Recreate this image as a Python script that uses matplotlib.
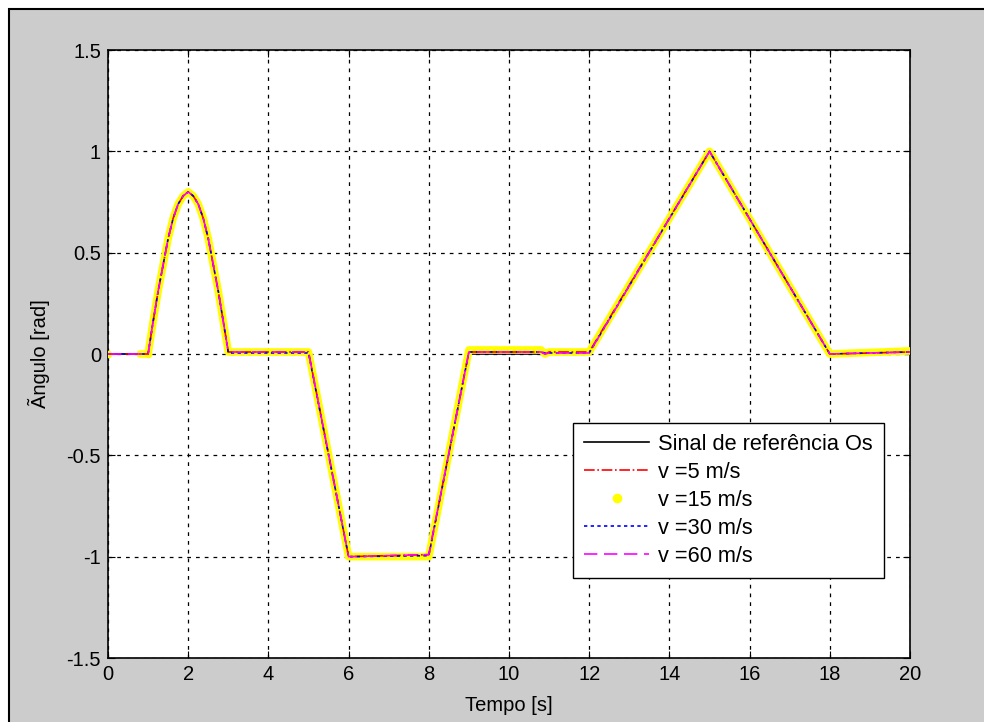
import matplotlib.pyplot as plt
from matplotlib.lines import Line2D
from matplotlib.patches import Rectangle

plt.rcParams['font.family'] = ['Liberation Sans', 'DejaVu Sans']

# reference steering signal (rad) vs time (s)
t = [0, 1.0, 1.125, 1.25, 1.375, 1.5, 1.625, 1.75, 1.875, 2.0,
     2.125, 2.25, 2.375, 2.5, 2.625, 2.75, 2.875, 3.0,
     5.0, 6.0, 8.0, 9.0, 10.8, 10.9, 11.0, 12.0, 15.0, 18.0, 20.0]
ref = [0, 0, 0.16, 0.31, 0.44, 0.57, 0.67, 0.74, 0.78, 0.80,
       0.78, 0.74, 0.67, 0.57, 0.44, 0.31, 0.16, 0.0,
       0.0, -1.0, -1.0, 0.0, 0.0, 0.0, 0.0, 0.0, 1.0, 0.0, 0.0]

# vehicle responses at several speeds
v5 = [0, 0, 0.16, 0.31, 0.44, 0.57, 0.67, 0.74, 0.78, 0.80,
      0.78, 0.74, 0.67, 0.57, 0.44, 0.31, 0.16, 0.01,
      0.01, -1.0, -0.99, 0.01, 0.01, 0.0, 0.01, 0.01, 1.0, 0.0, 0.01]
v15 = [0, 0, 0.16, 0.31, 0.44, 0.57, 0.67, 0.74, 0.78, 0.80,
       0.78, 0.74, 0.67, 0.57, 0.44, 0.31, 0.16, 0.01,
       0.01, -1.0, -1.0, 0.02, 0.02, 0.0, 0.01, 0.01, 1.0, 0.0, 0.015]
v30 = [0, 0, 0.16, 0.31, 0.44, 0.57, 0.67, 0.74, 0.78, 0.80,
       0.78, 0.74, 0.67, 0.57, 0.44, 0.31, 0.16, 0.005,
       0.005, -1.0, -0.995, 0.01, 0.01, 0.005, 0.005, 0.005, 1.0, 0.0, 0.01]
v60 = [0, 0, 0.16, 0.31, 0.44, 0.57, 0.67, 0.74, 0.78, 0.80,
       0.78, 0.74, 0.67, 0.57, 0.44, 0.31, 0.16, 0.01,
       0.01, -1.0, -0.99, 0.01, 0.01, 0.0, 0.005, 0.005, 1.0, 0.0, 0.01]

labels = ['Sinal de referência Os', 'v =5 m/s', 'v =15 m/s', 'v =30 m/s', 'v =60 m/s']
xticks = list(range(0, 21, 2))
yticks = [-1.5, -1, -0.5, 0, 0.5, 1, 1.5]
ytick_labels = ['-1.5', '-1', '-0.5', '0', '0.5', '1', '1.5']
fs = 14.5

fig = plt.figure(figsize=(9.84, 7.22), dpi=100)
fig.patch.set_facecolor('white')
# grey figure panel with black frame (runs off the right/bottom edges)
fig.patches.append(Rectangle((9 / 984, -0.05), 1.1, (722 - 9) / 722 + 0.05,
                             transform=fig.transFigure, facecolor='#cccccc',
                             edgecolor='black', linewidth=1.5, zorder=-1))

ax = fig.add_axes([108 / 984, (722 - 658) / 722, 802 / 984, 608 / 722])
ax.set_facecolor('white')

ax.plot(t, ref, color='black', lw=1.2, zorder=2)
# the 15 m/s run is drawn from t = 0.8 s on
i0 = 1
ax.plot([0.8] + t[i0:], [0] + v15[i0:], color='#ffff00', lw=5.5,
        solid_capstyle='round', solid_joinstyle='round', zorder=3)
ax.plot(t[:i0 + 1], v15[:i0 + 1], color='#ffff00', ls='none', marker='.',
        markersize=9, zorder=3)
ax.plot(t, v5, color='red', lw=1.2, ls='-.', zorder=4)
ax.plot(t, v30, color='blue', lw=1.2, ls=(0, (2, 2)), zorder=5)
ax.plot(t, v60, color='magenta', lw=1.2, ls=(0, (8, 4)), zorder=6)

ax.set_xlim(0, 20)
ax.set_ylim(-1.5, 1.5)
ax.set_xticks(xticks)
ax.set_yticks(yticks)
ax.set_yticklabels(ytick_labels)
ax.tick_params(direction='in', length=5, top=True, right=True,
               labelsize=fs, pad=5)
ax.grid(True, color='black', ls=(0, (3, 4)), lw=0.9)
for s in ax.spines.values():
    s.set_linewidth(1.2)

ax.set_xlabel('Tempo [s]', fontsize=fs, labelpad=9)
ax.set_ylabel('Ãngulo [rad]', fontsize=fs, labelpad=12)

handles = [
    Line2D([], [], color='black', lw=1.2),
    Line2D([], [], color='red', lw=1.2, ls='-.'),
    Line2D([], [], color='#ffff00', ls='none', marker='.', markersize=12),
    Line2D([], [], color='blue', lw=1.2, ls=(0, (2, 2))),
    Line2D([], [], color='magenta', lw=1.2, ls=(0, (8, 4))),
]
leg = ax.legend(handles, labels, loc='upper left',
                bbox_to_anchor=((573 - 108) / 802, (658 - 423) / 608),
                borderaxespad=0, fancybox=False, edgecolor='black',
                framealpha=1, fontsize=15.7, handlelength=3.0,
                handletextpad=0.4, labelspacing=0.32, borderpad=0.5)
leg.get_frame().set_linewidth(1.0)

fig.savefig('out.png', dpi=100)
